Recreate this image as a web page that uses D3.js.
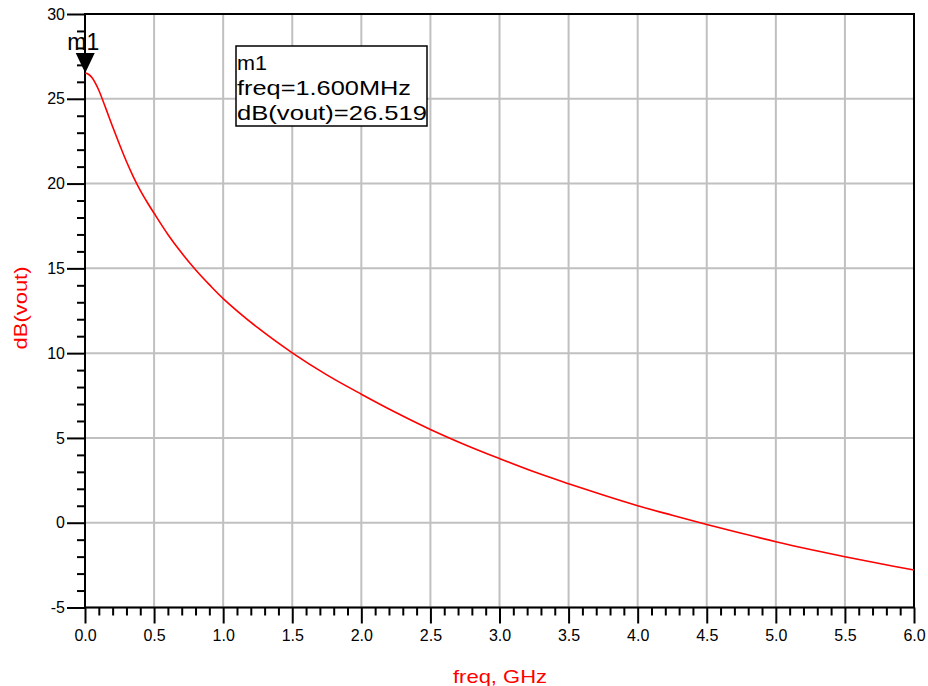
<!DOCTYPE html>
<html>
<head>
<meta charset="utf-8">
<script src="https://cdn.jsdelivr.net/npm/d3@7"></script>
<style>
  body { margin: 0; background: #fff; }
  svg { display: block; font-family: "Liberation Sans", Arial, sans-serif; }
</style>
</head>
<body>
<svg id="chart" width="928" height="686"></svg>
<script>
const width = 928;
const height = 686;

// freq in GHz, dB(vout)
const freq = [0, 0.025, 0.05, 0.075, 0.1, 0.15, 0.2, 0.25, 0.3, 0.35, 0.4, 0.45, 0.5,
  0.6, 0.7, 0.8, 0.9, 1.0, 1.25, 1.5, 1.75, 2.0, 2.25, 2.5, 2.75, 3.0, 3.25, 3.5,
  3.75, 4.0, 4.25, 4.5, 4.75, 5.0, 5.25, 5.5, 5.75, 6.0];
const dbVout = [26.52, 26.45, 26.25, 25.93, 25.5, 24.45, 23.35, 22.3, 21.3, 20.4, 19.6, 18.9, 18.25,
  17.0, 15.9, 14.92, 14.04, 13.22, 11.5, 10.02, 8.72, 7.58, 6.5, 5.5, 4.6, 3.78, 3.0, 2.3,
  1.63, 1.0, 0.44, -0.1, -0.62, -1.12, -1.58, -2.01, -2.41, -2.79];

const xTicks = [0, 0.5, 1, 1.5, 2, 2.5, 3, 3.5, 4, 4.5, 5, 5.5, 6];
const yTicks = [-5, 0, 5, 10, 15, 20, 25, 30];

const marker = { name: "m1", freq: 0.0016, value: 26.519, label: "freq=1.600MHz", readout: "dB(vout)=26.519" };

const svg = d3.select("#chart");

const x = d3.scaleLinear().domain([0, 6]).range([85, 914]);
const y = d3.scaleLinear().domain([-5, 30]).range([607.5, 14]);

const data = freq.map((f, i) => ({ f: f, v: dbVout[i] }));

// Grid
svg.append("g")
    .selectAll("line.vgrid")
    .data(xTicks)
    .enter()
    .append("line")
    .attr("x1", d => x(d))
    .attr("x2", d => x(d))
    .attr("y1", y(30))
    .attr("y2", y(-5))
    .attr("stroke", "#c0c0c0")
    .attr("stroke-width", 2);

svg.append("g")
    .selectAll("line.hgrid")
    .data(yTicks)
    .enter()
    .append("line")
    .attr("x1", x(0))
    .attr("x2", x(6))
    .attr("y1", d => y(d))
    .attr("y2", d => y(d))
    .attr("stroke", "#c0c0c0")
    .attr("stroke-width", 2);

// Minor ticks
const xMinor = d3.range(0, 61).map(i => i / 10).filter(d => Math.abs(d * 2 - Math.round(d * 2)) > 1e-6);
const yMinor = d3.range(-5, 31).filter(d => d % 5 !== 0);

svg.append("g")
    .attr("transform", `translate(0,${y(-5)})`)
    .call(d3.axisBottom(x).tickValues(xMinor).tickSize(8).tickFormat(""))
    .call(g => g.select(".domain").remove())
    .call(g => g.selectAll("line").attr("stroke", "#000").attr("stroke-width", 2));

svg.append("g")
    .attr("transform", `translate(${x(0)},0)`)
    .call(d3.axisLeft(y).tickValues(yMinor).tickSize(8).tickFormat(""))
    .call(g => g.select(".domain").remove())
    .call(g => g.selectAll("line").attr("stroke", "#000").attr("stroke-width", 2));

// Major axes
svg.append("g")
    .attr("transform", `translate(0,${y(-5)})`)
    .call(d3.axisBottom(x).tickValues(xTicks).tickSize(16).tickPadding(6).tickFormat(d => d.toFixed(1)))
    .call(g => g.select(".domain").remove())
    .call(g => g.selectAll("line").attr("stroke", "#000").attr("stroke-width", 2))
    .call(g => g.selectAll("text")
        .attr("font-size", 16)
        .attr("font-family", "Liberation Sans, Arial, sans-serif")
        .attr("fill", "#000"));

svg.append("g")
    .attr("transform", `translate(${x(0)},0)`)
    .call(d3.axisLeft(y).tickValues(yTicks).tickSize(18).tickPadding(2).tickFormat(d => String(d)))
    .call(g => g.select(".domain").remove())
    .call(g => g.selectAll("line").attr("stroke", "#000").attr("stroke-width", 2))
    .call(g => g.selectAll("text")
        .attr("font-size", 16)
        .attr("font-family", "Liberation Sans, Arial, sans-serif")
        .attr("fill", "#000"));

// Frame
svg.append("rect")
    .attr("x", x(0))
    .attr("y", y(30))
    .attr("width", x(6) - x(0))
    .attr("height", y(-5) - y(30))
    .attr("fill", "none")
    .attr("stroke", "#000")
    .attr("stroke-width", 2);

// Curve
const line = d3.line()
    .x(d => x(d.f))
    .y(d => y(d.v))
    .curve(d3.curveCatmullRom);

svg.append("path")
    .datum(data)
    .attr("fill", "none")
    .attr("stroke", "#ff0000")
    .attr("stroke-width", 1.6)
    .attr("d", line);

// Axis labels
svg.append("text")
    .attr("x", 500)
    .attr("y", 683)
    .attr("text-anchor", "middle")
    .attr("font-size", 19)
    .attr("textLength", 94)
    .attr("lengthAdjust", "spacingAndGlyphs")
    .attr("fill", "#ff0000")
    .text("freq, GHz");

svg.append("text")
    .attr("transform", "translate(27,308) rotate(-90)")
    .attr("text-anchor", "middle")
    .attr("font-size", 19)
    .attr("textLength", 83)
    .attr("lengthAdjust", "spacingAndGlyphs")
    .attr("fill", "#ff0000")
    .text("dB(vout)");

// Marker
const mx = x(marker.freq);
const my = y(marker.value);
svg.append("path")
    .attr("d", `M${mx},${my} L${mx - 9.5},${my - 20} L${mx + 9.5},${my - 20} Z`)
    .attr("fill", "#000");

svg.append("text")
    .attr("x", mx - 18)
    .attr("y", 50)
    .attr("font-size", 23)
    .attr("fill", "#000")
    .text(marker.name);

// Marker readout box
svg.append("rect")
    .attr("x", 236)
    .attr("y", 46)
    .attr("width", 191)
    .attr("height", 80)
    .attr("fill", "#fff")
    .attr("stroke", "#000")
    .attr("stroke-width", 1.5);

const boxLines = [
    { t: marker.name, yb: 70, w: 30 },
    { t: marker.label, yb: 95, w: 174 },
    { t: marker.readout, yb: 120, w: 190 }
];

svg.append("g")
    .selectAll("text")
    .data(boxLines)
    .enter()
    .append("text")
    .attr("x", 237)
    .attr("y", d => d.yb)
    .attr("font-size", 21)
    .attr("textLength", d => d.w)
    .attr("lengthAdjust", "spacingAndGlyphs")
    .attr("fill", "#000")
    .text(d => d.t);
</script>
</body>
</html>
